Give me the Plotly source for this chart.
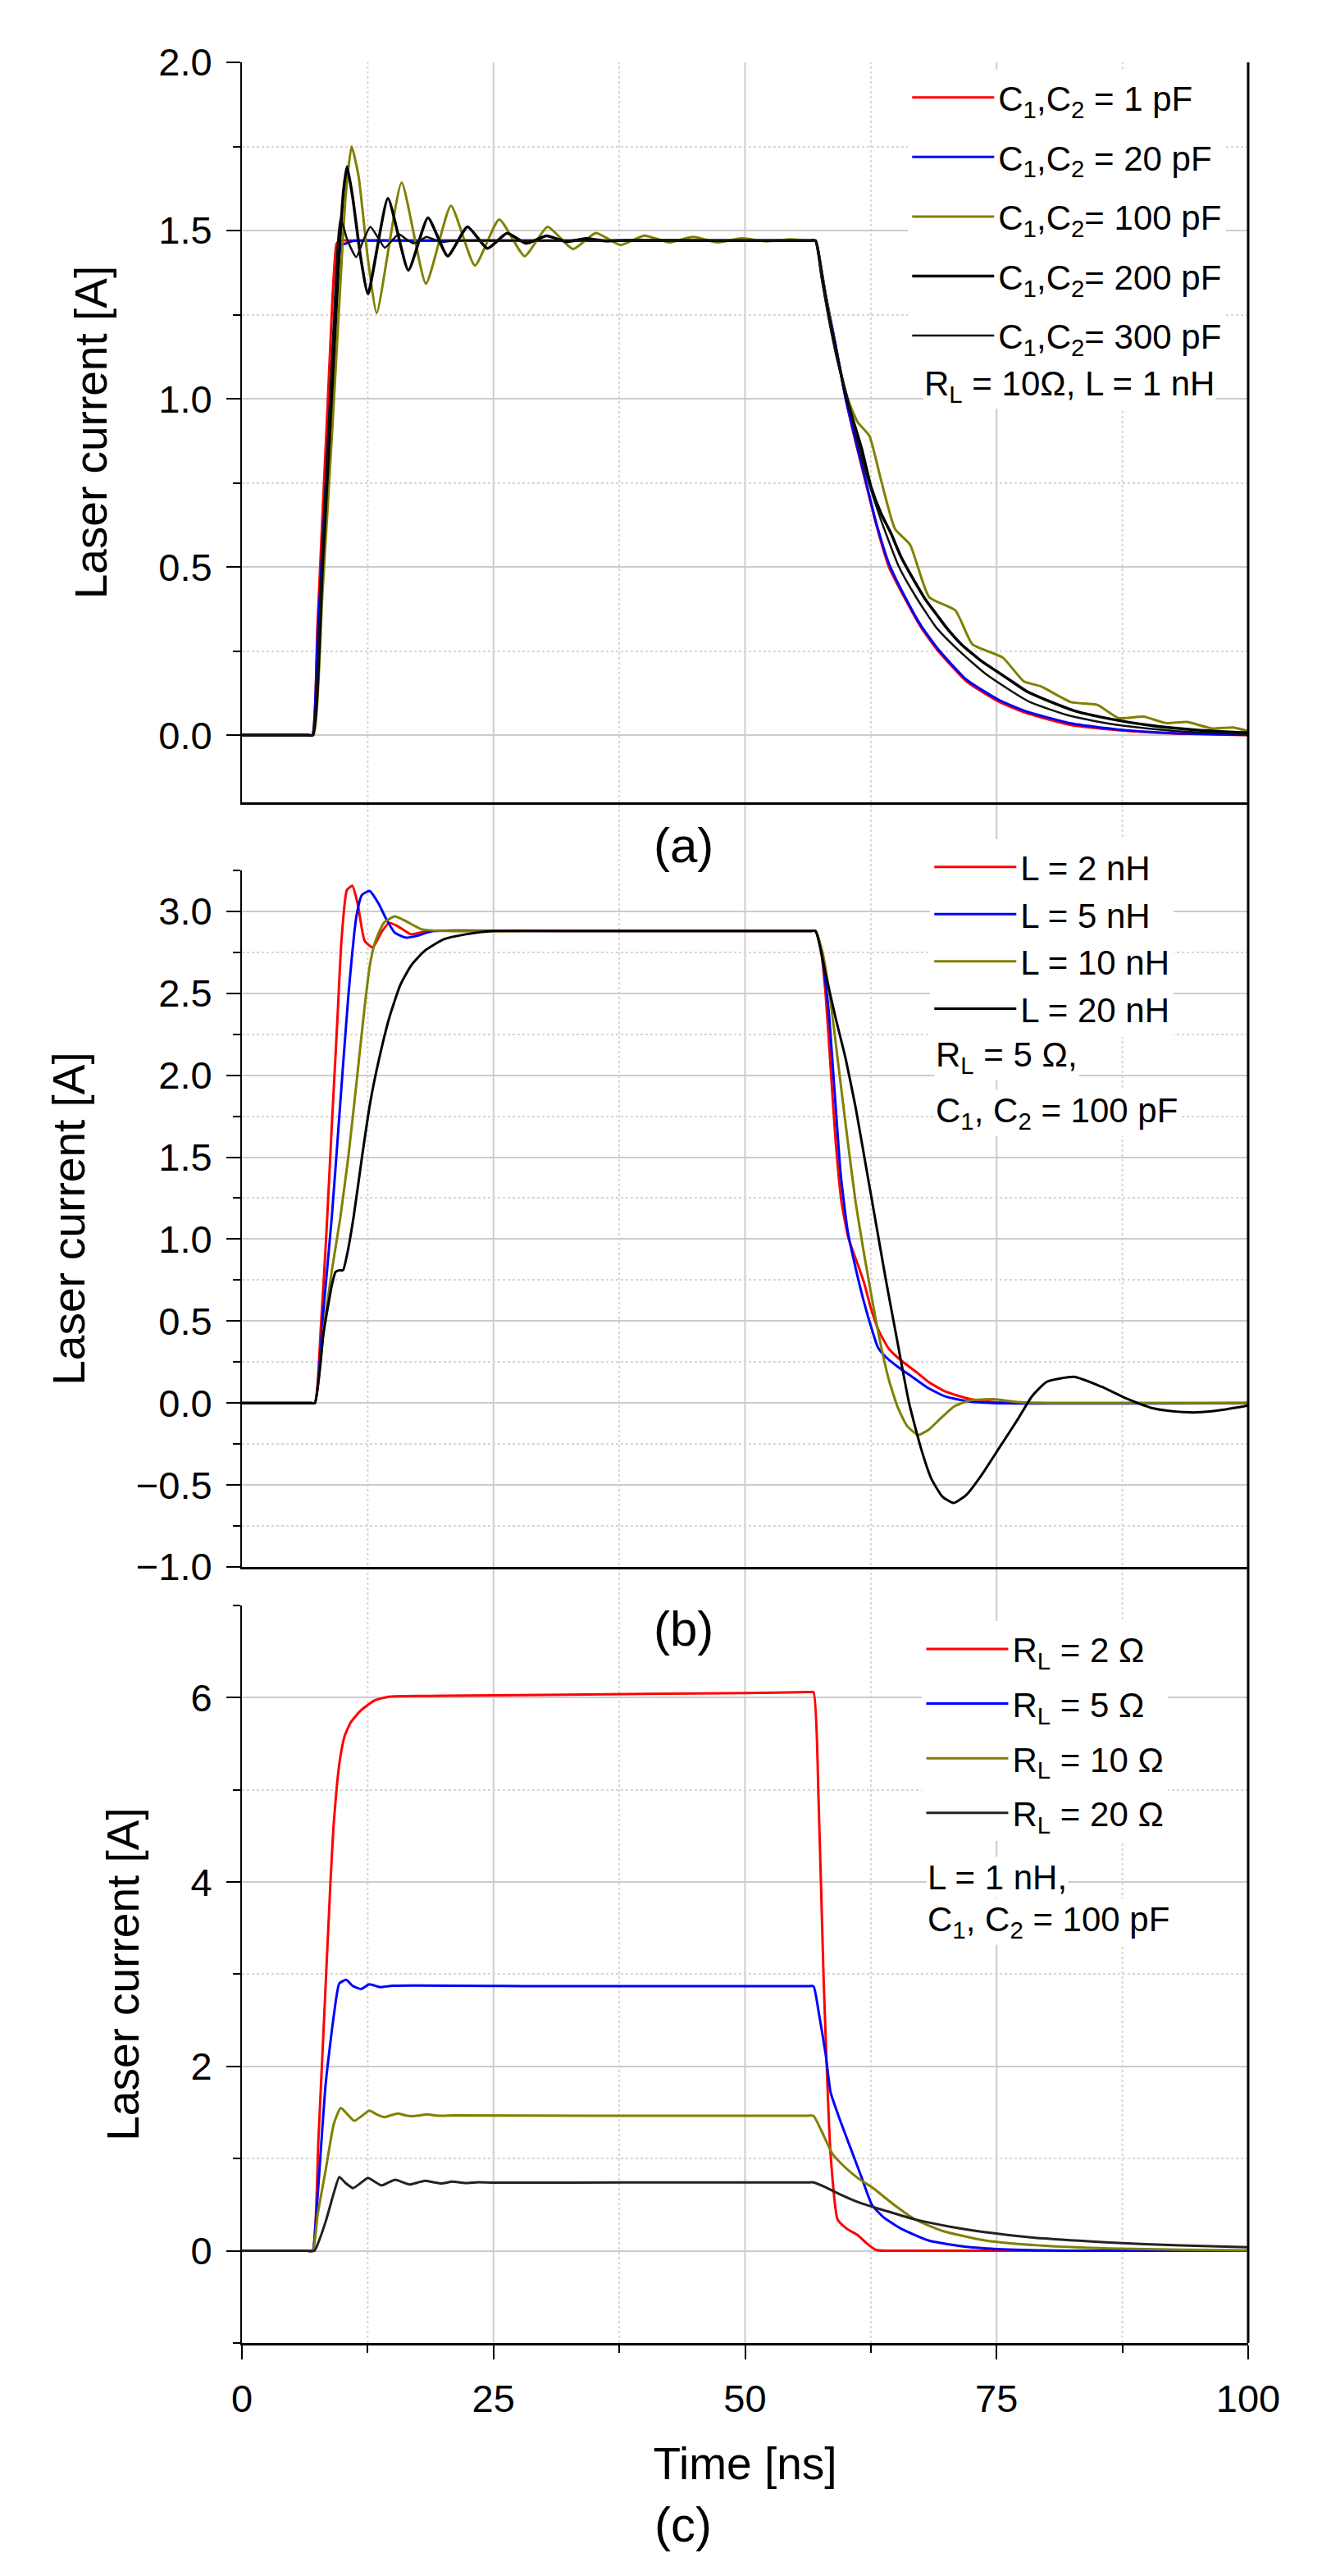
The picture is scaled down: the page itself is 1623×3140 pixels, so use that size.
"""Laser current response for three parameter sweeps, stacked panels (a), (b), (c)."""

import plotly.graph_objects as go

FONT_FAMILY = "Arial, Liberation Sans, sans-serif"
GRID_COLOR = "#cccccc"
MINOR_GRID_COLOR = "#d6d6d6"
OLIVE = "#808000"

# shared time axis
X_TICKS = [0, 25, 50, 75, 100]
X_MINOR_TICKS = [12.5, 37.5, 62.5, 87.5]
X_GRID = [25, 50, 75]

# ---------------------------------------------------------------------------
# (a) C1, C2 sweep  (R_L = 10 ohm, L = 1 nH)
# ---------------------------------------------------------------------------
A_T_1PF = [0, 6.5, 7.0, 7.5, 8.0, 8.5, 9.0, 9.2, 9.4, 9.7, 12.0, 30.0, 56.3, 57.0, 57.5, 58.0,
           59.0, 60.0, 61.0, 62.0, 63.0, 64.3, 66.0, 67.5, 69.2, 72.0, 75.2, 78.0, 82.4, 87.0,
           92.6, 100]
A_I_1PF = [0, 0, 0, 0.32, 0.65, 0.97, 1.30, 1.40, 1.46, 1.47, 1.47, 1.47, 1.47, 1.47, 1.40, 1.31,
           1.16, 1.00, 0.87, 0.75, 0.63, 0.50, 0.40, 0.32, 0.25, 0.16, 0.10, 0.065, 0.03, 0.015,
           0.005, 0.0]

A_T_20PF = [0, 6.5, 7.0, 7.5, 8.0, 8.5, 9.0, 9.5, 9.9, 10.2, 10.6, 11.2, 20.0, 40.0, 56.3, 57.0,
            57.5, 58.0, 59.0, 60.0, 61.0, 62.0, 63.0, 64.3, 66.0, 67.5, 69.2, 72.0, 75.2, 78.0,
            82.4, 87.0, 92.6, 100]
A_I_20PF = [0, 0, 0, 0.28, 0.56, 0.84, 1.12, 1.38, 1.46, 1.46, 1.465, 1.47, 1.47, 1.47, 1.47,
            1.47, 1.40, 1.31, 1.16, 1.00, 0.875, 0.755, 0.635, 0.51, 0.405, 0.325, 0.255, 0.165,
            0.105, 0.07, 0.035, 0.017, 0.006, 0.001]

A_T_100PF = [0, 6.5, 7.1, 8.0, 9.0, 9.8, 10.3, 10.9, 11.6, 12.5, 13.4, 15.87, 18.29, 20.77,
             23.15, 25.57, 28.1, 30.37, 32.9, 35.17, 37.62, 39.97, 42.51, 44.83, 47.3, 49.7, 52.1,
             54.5, 56.3, 57.0, 57.6, 58.3, 59.2, 60.2, 61.2, 62.35, 63.5, 64.9, 66.4, 68.3, 70.9,
             72.6, 75.6, 77.7, 79.4, 82.4, 85.0, 87.1, 89.6, 91.8, 93.9, 96.4, 98.5, 100]
A_I_100PF = [0, 0, 0, 0.42, 0.92, 1.35, 1.60, 1.75, 1.66, 1.42, 1.255, 1.643, 1.342, 1.574,
             1.396, 1.533, 1.424, 1.511, 1.445, 1.493, 1.457, 1.485, 1.465, 1.481, 1.465, 1.477,
             1.468, 1.474, 1.47, 1.47, 1.38, 1.26, 1.12, 1.00, 0.93, 0.89, 0.76, 0.613, 0.566,
             0.41, 0.371, 0.27, 0.231, 0.16, 0.145, 0.098, 0.09, 0.051, 0.055, 0.036, 0.039, 0.02,
             0.023, 0.012]

A_T_200PF = [0, 6.5, 7.05, 8.0, 9.0, 9.7, 10.1, 10.45, 11.0, 11.8, 12.53, 14.51, 16.54, 18.49,
             20.45, 22.42, 24.4, 26.35, 28.25, 30.28, 32.26, 34.2, 36.2, 38.0, 47.0, 56.3, 57.0,
             57.6, 58.3, 59.2, 60.1, 60.8, 61.6, 62.5, 63.5, 64.5, 65.5, 66.6, 68.0, 69.0, 70.0,
             71.5, 73.5, 75.0, 76.5, 78.0, 80.3, 83.0, 86.0, 90.0, 95.0, 100]
A_I_200PF = [0, 0, 0, 0.5, 1.05, 1.45, 1.62, 1.69, 1.6, 1.42, 1.312, 1.596, 1.382, 1.538, 1.424,
             1.511, 1.447, 1.492, 1.462, 1.484, 1.467, 1.476, 1.469, 1.471, 1.47, 1.47, 1.47,
             1.37, 1.25, 1.12, 1.0, 0.93, 0.85, 0.74, 0.66, 0.6, 0.53, 0.47, 0.40, 0.36, 0.32,
             0.27, 0.22, 0.19, 0.16, 0.13, 0.10, 0.07, 0.05, 0.03, 0.015, 0.007]

A_T_300PF = [0, 6.5, 7.0, 8.0, 9.0, 9.5, 9.8, 10.5, 11.36, 12.05, 12.76, 13.5, 14.21, 14.9,
             15.58, 16.3, 17.04, 17.7, 18.35, 19.1, 19.8, 21.0, 30.0, 45.0, 56.3, 57.0, 57.6,
             58.3, 59.2, 60.2, 61.2, 62.2, 63.5, 65.3, 67.0, 69.0, 71.3, 74.0, 78.2, 82.0, 86.0,
             90.0, 95.0, 100]
A_I_300PF = [0, 0, 0, 0.55, 1.15, 1.45, 1.537, 1.47, 1.421, 1.47, 1.511, 1.48, 1.449, 1.47, 1.49,
             1.475, 1.462, 1.47, 1.481, 1.473, 1.466, 1.47, 1.47, 1.47, 1.47, 1.47, 1.36, 1.24,
             1.11, 1.0, 0.87, 0.76, 0.64, 0.5, 0.41, 0.32, 0.25, 0.18, 0.1, 0.06, 0.035, 0.02,
             0.008, 0.003]

# ---------------------------------------------------------------------------
# (b) L sweep  (R_L = 5 ohm, C1, C2 = 100 pF)
# ---------------------------------------------------------------------------
B_T_2NH = [0, 6.75, 7.25, 7.85, 8.39, 8.94, 9.48, 9.89, 10.43, 10.98, 11.52, 12.2, 13.01, 13.83,
           14.64, 15.46, 16.8, 18.45, 25.0, 40.0, 56.3, 57.0, 57.5, 58.0, 58.5, 59.0, 59.6, 60.3,
           61.0, 61.8, 62.5, 63.3, 64.3, 65.5, 67.0, 68.2, 69.9, 72.3, 74.7, 78.0, 100]
B_I_2NH = [0, 0, 0, 0.47, 1.03, 1.70, 2.33, 2.82, 3.13, 3.156, 3.04, 2.82, 2.78, 2.87, 2.93,
           2.91, 2.86, 2.88, 2.88, 2.88, 2.88, 2.88, 2.78, 2.5, 2.05, 1.6, 1.22, 1.0, 0.88, 0.74,
           0.58, 0.44, 0.33, 0.26, 0.19, 0.13, 0.07, 0.025, 0.006, 0.0, 0.0]

B_T_5NH = [0, 6.75, 7.25, 8.12, 8.94, 9.75, 10.57, 11.38, 11.93, 12.69, 13.56, 14.37, 15.19,
           16.27, 17.36, 19.0, 28.0, 42.0, 56.3, 57.0, 57.6, 58.3, 58.9, 59.5, 60.2, 61.0, 61.8,
           62.6, 63.2, 64.0, 65.2, 66.6, 68.1, 69.9, 71.8, 74.7, 100]
B_I_5NH = [0, 0, 0, 0.58, 1.14, 1.81, 2.48, 2.97, 3.10, 3.125, 3.05, 2.95, 2.87, 2.84, 2.85,
           2.88, 2.88, 2.88, 2.88, 2.88, 2.75, 2.4, 1.9, 1.4, 1.05, 0.82, 0.62, 0.45, 0.34, 0.28,
           0.22, 0.16, 0.095, 0.04, 0.014, 0.0, 0.0]

B_T_10NH = [0, 6.75, 7.25, 8.12, 8.94, 9.75, 10.57, 11.38, 12.2, 12.74, 13.28, 14.1, 15.19, 16.3,
            17.9, 20.1, 30.0, 45.0, 56.3, 57.0, 57.7, 58.5, 59.3, 60.2, 61.0, 61.8, 62.6, 63.4,
            64.3, 65.2, 66.1, 67.2, 68.3, 69.5, 70.8, 72.3, 74.7, 77.0, 80.0, 100]
B_I_10NH = [0, 0, 0, 0.45, 0.81, 1.12, 1.5, 1.95, 2.42, 2.68, 2.82, 2.93, 2.97, 2.94, 2.89, 2.88,
            2.88, 2.88, 2.88, 2.88, 2.75, 2.45, 2.05, 1.6, 1.22, 0.92, 0.64, 0.38, 0.14, -0.03,
            -0.14, -0.195, -0.16, -0.09, -0.02, 0.015, 0.023, 0.006, 0.0, 0.0]

B_T_20NH = [0, 6.75, 7.25, 8.12, 8.94, 9.3, 9.7, 10.05, 10.43, 11.11, 11.93, 12.74, 13.56, 14.64,
            15.73, 16.82, 18.17, 20.07, 22.24, 24.96, 35.0, 46.0, 56.3, 57.0, 58.0, 59.0, 60.0,
            61.0, 62.0, 63.0, 64.0, 65.0, 66.3, 67.5, 68.5, 69.6, 70.7, 72.0, 73.5, 75.3, 77.1,
            78.5, 80.0, 82.7, 85.4, 87.8, 90.4, 92.5, 94.9, 97.3, 100]
B_I_20NH = [0, 0, 0, 0.43, 0.72, 0.80, 0.81, 0.81, 0.90, 1.14, 1.50, 1.83, 2.08, 2.35, 2.55,
            2.67, 2.76, 2.83, 2.86, 2.88, 2.88, 2.88, 2.88, 2.88, 2.62, 2.35, 2.1, 1.8, 1.45, 1.1,
            0.75, 0.42, 0.0, -0.28, -0.46, -0.57, -0.61, -0.56, -0.44, -0.27, -0.1, 0.04, 0.13,
            0.16, 0.1, 0.03, -0.03, -0.05, -0.057, -0.043, -0.015]

# ---------------------------------------------------------------------------
# (c) R_L sweep  (L = 1 nH, C1, C2 = 100 pF)
# ---------------------------------------------------------------------------
C_T_2OHM = [0, 6.5, 7.03, 7.6, 8.2, 8.8, 9.1, 9.4, 9.7, 10.2, 10.8, 11.8, 13.2, 14.6, 20.0, 40.0,
            50.0, 56.3, 56.8, 57.3, 57.8, 58.5, 59.2, 60.1, 61.2, 62.1, 63.0, 64.0, 100]
C_I_2OHM = [0, 0, 0, 1.2, 2.6, 4.0, 4.6, 5.0, 5.3, 5.58, 5.73, 5.86, 5.97, 6.01, 6.02, 6.04, 6.05,
            6.06, 6.06, 4.92, 2.98, 1.05, 0.34, 0.24, 0.17, 0.08, 0.01, 0.0, 0.0]

C_T_5OHM = [0, 6.5, 7.03, 7.3, 8.33, 9.14, 9.68, 10.36, 11.04, 11.85, 12.66, 13.74, 15.0, 30.0,
            45.0, 56.2, 56.8, 57.3, 58.0, 58.5, 59.4, 60.5, 61.6, 62.6, 63.7, 65.5, 68.3, 71.5,
            74.0, 79.0, 85.0, 100]
C_I_5OHM = [0, 0, 0, 0.26, 1.82, 2.56, 2.9, 2.94, 2.87, 2.84, 2.89, 2.86, 2.875, 2.87, 2.87, 2.87,
            2.87, 2.6, 2.14, 1.72, 1.43, 1.11, 0.79, 0.5, 0.37, 0.24, 0.11, 0.05, 0.026, 0.006,
            0.0, 0.0]

C_T_10OHM = [0, 6.5, 7.05, 7.52, 8.33, 9.14, 9.82, 10.49, 11.17, 12.0, 12.66, 13.4, 14.15, 14.8,
             15.5, 16.2, 16.98, 17.7, 18.4, 19.1, 19.9, 21.0, 35.0, 50.0, 56.2, 56.8, 57.6, 58.7,
             59.8, 61.2, 62.6, 64.8, 66.9, 69.8, 74.0, 79.0, 86.2, 93.3, 100]
C_I_10OHM = [0, 0, 0, 0.39, 0.88, 1.38, 1.55, 1.48, 1.41, 1.47, 1.52, 1.48, 1.45, 1.47, 1.49,
             1.47, 1.46, 1.47, 1.48, 1.47, 1.465, 1.47, 1.465, 1.465, 1.465, 1.465, 1.30, 1.05,
             0.92, 0.79, 0.69, 0.50, 0.34, 0.21, 0.11, 0.06, 0.026, 0.013, 0.006]

C_T_20OHM = [0, 6.5, 7.2, 7.52, 8.33, 9.14, 9.68, 10.36, 11.04, 11.8, 12.53, 13.2, 13.88, 14.55,
             15.23, 15.95, 16.7, 17.45, 18.2, 19.0, 19.8, 20.9, 22.2, 23.5, 25.0, 40.0, 56.2,
             56.8, 58.0, 59.1, 61.2, 64.1, 66.9, 70.5, 74.8, 79.0, 86.2, 93.3, 100]
C_I_20OHM = [0, 0, 0, 0.07, 0.32, 0.63, 0.80, 0.73, 0.68, 0.735, 0.79, 0.75, 0.71, 0.74, 0.77,
             0.745, 0.72, 0.74, 0.76, 0.745, 0.73, 0.75, 0.735, 0.745, 0.74, 0.742, 0.742, 0.742,
             0.69, 0.63, 0.53, 0.43, 0.34, 0.26, 0.19, 0.14, 0.09, 0.058, 0.04]

# y-axis ticks per panel
A_Y_TICKS = [0.0, 0.5, 1.0, 1.5, 2.0]
A_Y_MINOR = [0.25, 0.75, 1.25, 1.75]
B_Y_TICKS = [-1.0, -0.5, 0.0, 0.5, 1.0, 1.5, 2.0, 2.5, 3.0]
B_Y_MINOR = [-0.75, -0.25, 0.25, 0.75, 1.25, 1.75, 2.25, 2.75, 3.25]
C_Y_TICKS = [0, 2, 4, 6]
C_Y_MINOR = [-1, 1, 3, 5, 7]

PANELS = [
    {
        "yaxis": "y3", "legend": "legend", "grouped": True,
        "series": [
            ("C<sub>1</sub>,C<sub>2</sub> = 1 pF", A_T_1PF, A_I_1PF, "#ff0000", 3),
            ("C<sub>1</sub>,C<sub>2</sub> = 20 pF", A_T_20PF, A_I_20PF, "#0000ff", 3),
            ("C<sub>1</sub>,C<sub>2</sub>= 100 pF", A_T_100PF, A_I_100PF, OLIVE, 3),
            ("C<sub>1</sub>,C<sub>2</sub>= 200 pF", A_T_200PF, A_I_200PF, "#000000", 3.5),
            ("C<sub>1</sub>,C<sub>2</sub>= 300 pF", A_T_300PF, A_I_300PF, "#111111", 2.5),
        ],
    },
    {
        "yaxis": "y2", "legend": "legend2", "grouped": False,
        "series": [
            ("L = 2 nH", B_T_2NH, B_I_2NH, "#ff0000", 3),
            ("L = 5 nH", B_T_5NH, B_I_5NH, "#0000ff", 3),
            ("L = 10 nH", B_T_10NH, B_I_10NH, OLIVE, 3),
            ("L = 20 nH", B_T_20NH, B_I_20NH, "#000000", 3),
        ],
    },
    {
        "yaxis": "y", "legend": "legend3", "grouped": True,
        "series": [
            ("R<sub>L</sub> = 2 Ω", C_T_2OHM, C_I_2OHM, "#ff0000", 3),
            ("R<sub>L</sub> = 5 Ω", C_T_5OHM, C_I_5OHM, "#0000ff", 3),
            ("R<sub>L</sub> = 10 Ω", C_T_10OHM, C_I_10OHM, OLIVE, 3),
            ("R<sub>L</sub> = 20 Ω", C_T_20OHM, C_I_20OHM, "#222222", 3),
        ],
    },
]

NOTES = [
    ("R<sub>L</sub> = 10Ω, L = 1 nH", 0.6764, 0.8581),
    ("R<sub>L</sub> = 5 Ω,", 0.6879, 0.5640),
    ("C<sub>1</sub>, C<sub>2</sub> = 100 pF", 0.6879, 0.5394),
    ("L = 1 nH,", 0.6797, 0.2043),
    ("C<sub>1</sub>, C<sub>2</sub> = 100 pF", 0.6797, 0.1847),
]

PANEL_LABELS = [("(a)", 0.6568), ("(b)", 0.3133), ("(c)", -0.0795)]


def _y_axis(domain, rng, ticks, minor, fmt):
    return {
        "domain": domain,
        "range": rng,
        "anchor": "x",
        "tickvals": ticks,
        "tickformat": fmt,
        "ticks": "outside",
        "ticklen": 17,
        "tickwidth": 2,
        "tickcolor": "black",
        "ticklabelstandoff": 8,
        "tickfont": {"size": 47, "family": FONT_FAMILY, "color": "black"},
        "showline": True,
        "linecolor": "black",
        "linewidth": 2,
        "showgrid": True,
        "gridcolor": GRID_COLOR,
        "gridwidth": 2,
        "zeroline": False,
        "minor": {
            "tickvals": minor,
            "ticks": "outside",
            "ticklen": 9,
            "tickwidth": 2,
            "tickcolor": "black",
            "showgrid": True,
            "gridcolor": MINOR_GRID_COLOR,
            "gridwidth": 2,
            "griddash": "dot",
        },
        "title": {
            "text": "Laser current [A]",
            "font": {"size": 55, "family": FONT_FAMILY, "color": "black"},
            "standoff": 45,
        },
    }


def _x_axis(anchor, main):
    axis = {
        "anchor": anchor,
        "domain": [0, 1],
        "range": [0, 100],
        "showline": True,
        "linecolor": "black",
        "linewidth": 3,
        "showgrid": False,
        "zeroline": False,
    }
    if main:
        axis.update(
            tickvals=X_TICKS,
            ticks="outside",
            ticklen=17,
            tickwidth=2,
            tickcolor="black",
            ticklabelstandoff=8,
            tickfont={"size": 47, "family": FONT_FAMILY, "color": "black"},
            minor={"tickvals": X_MINOR_TICKS, "ticks": "outside", "ticklen": 9,
                   "tickwidth": 2, "tickcolor": "black"},
            title={"text": "Time [ns]",
                   "font": {"size": 55, "family": FONT_FAMILY, "color": "black"},
                   "standoff": 35},
        )
    else:
        axis.update(matches="x", showticklabels=False, ticks="")
    return axis


def build_figure():
    fig = go.Figure()

    for panel in PANELS:
        xaxis = {"y": "x", "y2": "x2", "y3": "x3"}[panel["yaxis"]]
        for name, t, i, color, width in panel["series"]:
            fig.add_trace(
                go.Scatter(
                    x=t,
                    y=i,
                    mode="lines",
                    name=name,
                    line={"color": color, "width": width, "shape": "spline", "smoothing": 0.5},
                    xaxis=xaxis,
                    yaxis=panel["yaxis"],
                    legend=panel["legend"],
                    legendgroup=name if panel["grouped"] else None,
                )
            )

    legend_common = {
        "xanchor": "left",
        "yanchor": "top",
        "bgcolor": "white",
        "borderwidth": 0,
        "itemwidth": 100,
        "font": {"size": 42, "family": FONT_FAMILY, "color": "black"},
    }

    # vertical grid lines run through the whole stack, including the gaps
    shapes = []
    for xv in X_GRID:
        shapes.append({"type": "line", "xref": "x", "yref": "paper", "x0": xv, "x1": xv,
                       "y0": 0, "y1": 1, "layer": "below",
                       "line": {"color": GRID_COLOR, "width": 2}})
    for xv in X_MINOR_TICKS:
        shapes.append({"type": "line", "xref": "x", "yref": "paper", "x0": xv, "x1": xv,
                       "y0": 0, "y1": 1, "layer": "below",
                       "line": {"color": MINOR_GRID_COLOR, "width": 2, "dash": "dot"}})
    shapes.append({"type": "line", "xref": "paper", "yref": "paper", "x0": 1, "x1": 1,
                   "y0": 0, "y1": 1, "line": {"color": "black", "width": 3}})

    annotations = []
    for text, x, y in NOTES:
        annotations.append({"text": text, "x": x, "y": y, "xref": "paper", "yref": "paper",
                            "xanchor": "left", "yanchor": "middle", "showarrow": False,
                            "bgcolor": "white",
                            "font": {"size": 42, "family": FONT_FAMILY, "color": "black"}})
    for text, y in PANEL_LABELS:
        annotations.append({"text": text, "x": 0.4385, "y": y, "xref": "paper", "yref": "paper",
                            "xanchor": "center", "yanchor": "middle", "showarrow": False,
                            "bgcolor": "white",
                            "font": {"size": 60, "family": FONT_FAMILY, "color": "black"}})

    fig.update_layout(
        width=1623,
        height=3140,
        margin={"l": 287, "r": 109, "t": 68, "b": 292},
        paper_bgcolor="white",
        plot_bgcolor="white",
        font={"family": FONT_FAMILY, "color": "black"},
        xaxis=_x_axis("y", True),
        xaxis2=_x_axis("y2", False),
        xaxis3=_x_axis("y3", False),
        yaxis=_y_axis([0, 0.3234], [-1, 7], C_Y_TICKS, C_Y_MINOR, "d"),
        yaxis2=_y_axis([0.3403, 0.6457], [-1, 3.25], B_Y_TICKS, B_Y_MINOR, ".1f"),
        yaxis3=_y_axis([0.6755, 1.0], [-0.2, 2.0], A_Y_TICKS, A_Y_MINOR, ".1f"),
        legend={**legend_common, "x": 0.662, "y": 0.9968, "tracegroupgap": 15},
        legend2={**legend_common, "x": 0.684, "y": 0.6594},
        legend3={**legend_common, "x": 0.676, "y": 0.3165, "tracegroupgap": 9},
        shapes=shapes,
        annotations=annotations,
    )
    return fig


fig = build_figure()
fig.write_html("out.html")
